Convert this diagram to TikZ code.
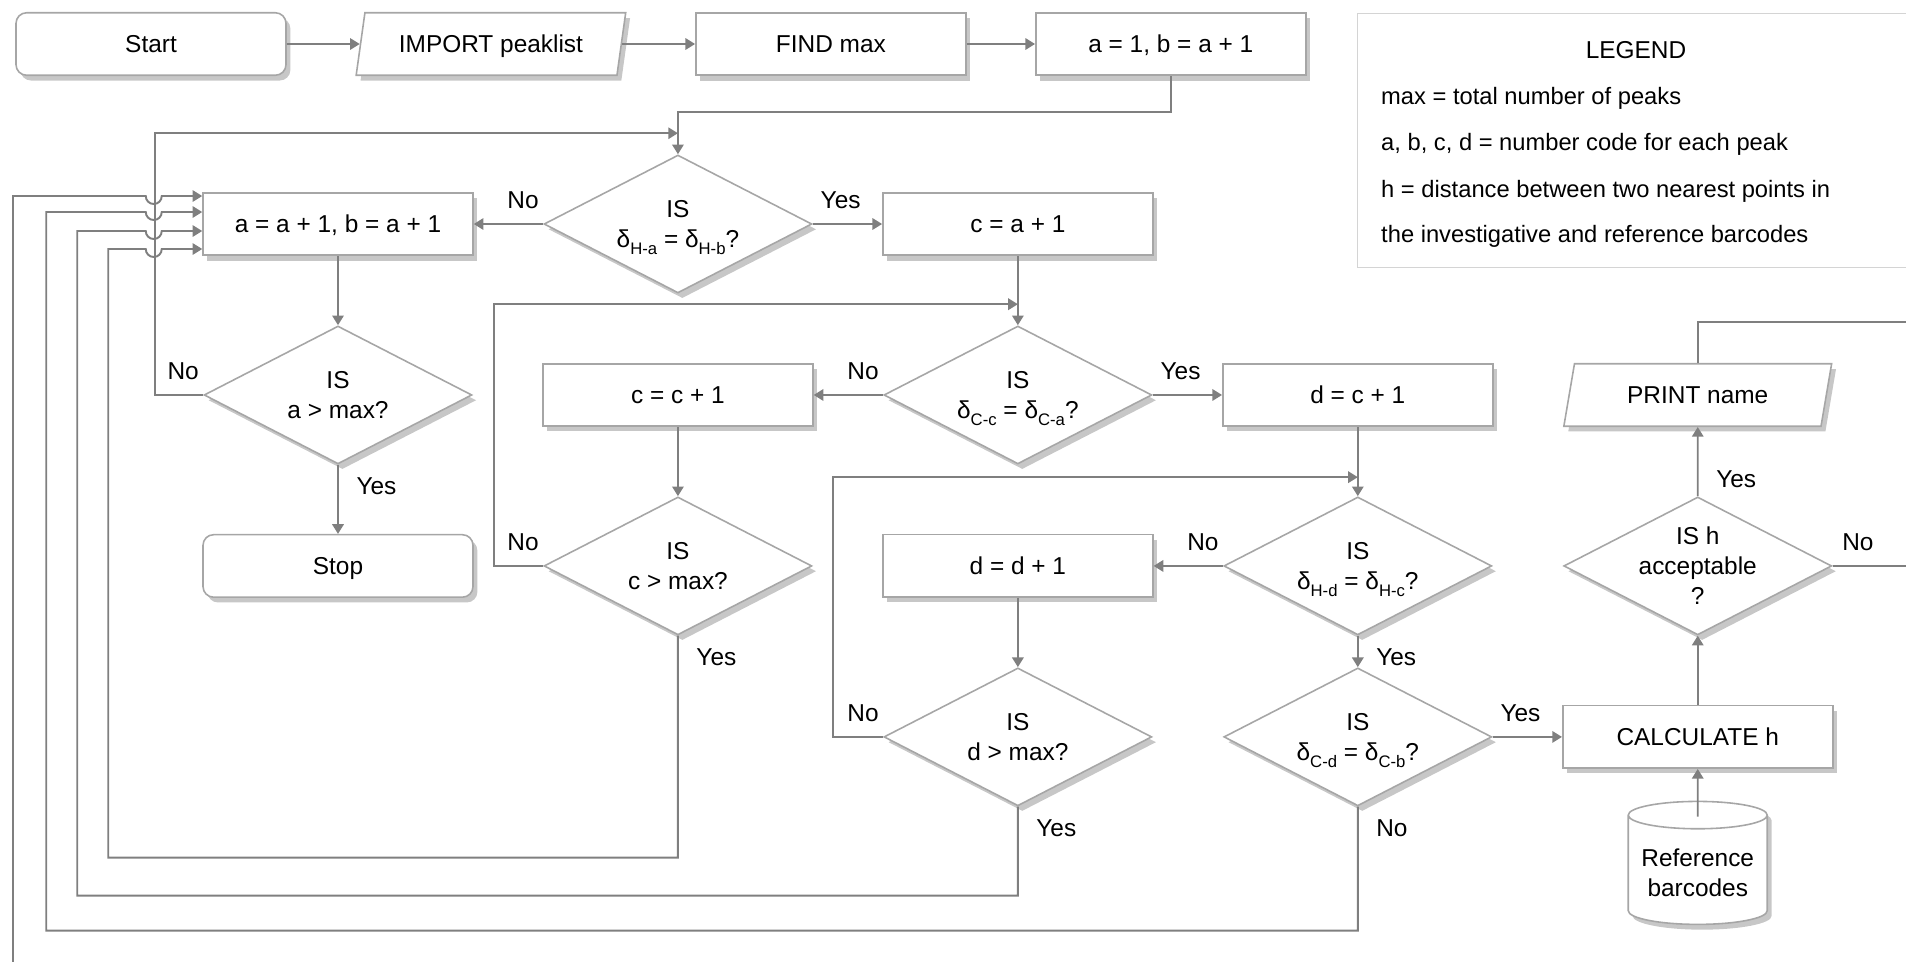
\documentclass[tikz,border=0pt]{standalone}
\usepackage{fontspec}
\setmainfont{Liberation Sans}
\usepackage{xcolor}
\usetikzlibrary{positioning}
\usetikzlibrary{arrows.meta}
\usetikzlibrary{shapes.geometric}
\usetikzlibrary{shadows}
\usetikzlibrary{calc}
\definecolor{linegray}{HTML}{7F7F7F}
\definecolor{boxgray}{HTML}{A6A6A6}
\definecolor{leggray}{HTML}{D4D4D4}
\newcommand{\lowsub}[1]{\raisebox{-0.55ex}[0pt][0pt]{\fontsize{9.5}{10}\selectfont #1}}
\tikzset{flowchart/.style={x=0.02cm, y=-0.02cm, node distance=3.42cm and 6.8cm, on grid,
	font=\fontsize{13.9}{17}\selectfont, every node/.style={align=center}},
	boxshadow/.style={drop shadow={shadow xshift=2.5pt, shadow yshift=-3pt, opacity=0.4, fill=black!55}},
	process/.style={draw=boxgray, line width=0.9pt, fill=white, boxshadow, minimum width=5.4cm, minimum height=1.25cm,
		text depth=0pt},
	terminal/.style={process, rounded corners=6pt},
	io/.style={process, trapezium, trapezium left angle=77, trapezium right angle=103, trapezium stretches=true},
	decision/.style={diamond, aspect=2, draw=boxgray, line width=0.9pt, fill=white, boxshadow,
		minimum width=5.36cm, minimum height=2.76cm, inner sep=0pt},
	database/.style={cylinder, shape border rotate=90, aspect=0.22, draw=boxgray, line width=0.9pt, fill=white, boxshadow,
		minimum width=2.78cm, minimum height=2.46cm},
	arr/.style={draw=linegray, line width=1.1pt, -{Triangle[length=5.5pt,width=6.5pt]}},
	link/.style={draw=linegray, line width=1.1pt},
	lbl/.style={inner sep=1pt}}

\begin{document}
\begin{tikzpicture}[flowchart]
	\useasboundingbox (0,0) rectangle (1906,961);
	\clip (0,0) rectangle (1906,961);
	\node[terminal] (start) at (151,44) {Start};
	\node[io, right=of start] (import) {IMPORT peaklist};
	\node[process, right=of import] (findmax) {FIND max};
	\node[process, right=of findmax] (abinit) {a = 1, b = a + 1};
	\node[process] (incA) at (338,224) {a = a + 1, b = a + 1};
	\node[decision, right=of incA] (d1) {IS\\δ\lowsub{H-a} = δ\lowsub{H-b}?};
	\node[process, right=of d1] (cinit) {c = a + 1};
	\node[decision, below=of incA] (d2) {IS\\a > max?};
	\node[terminal, below=of d2] (stop) {Stop};
	\node[decision, below=of cinit] (d3) {IS\\δ\lowsub{C-c} = δ\lowsub{C-a}?};
	\node[process, left=of d3] (incC) {c = c + 1};
	\node[process, right=of d3] (dinit) {d = c + 1};
	\node[decision, below=of incC] (d4) {IS\\c > max?};
	\node[decision, below=of dinit] (d5) {IS\\δ\lowsub{H-d} = δ\lowsub{H-c}?};
	\node[process, left=of d5] (incD) {d = d + 1};
	\node[decision, below=of incD] (d7) {IS\\d > max?};
	\node[decision, below=of d5] (d6) {IS\\δ\lowsub{C-d} = δ\lowsub{C-b}?};
	\node[process, right=of d6] (calc) {CALCULATE h};
	\node[database, below=2.72cm of calc] (refdb) {Reference\\barcodes};
	\node[decision, above=of calc, inner sep=-6pt] (d8) {IS h\\acceptable\\?};
	\node[io, above=of d8] (printname) {PRINT name};

	\node[draw=leggray, line width=0.8pt, minimum width=11.16cm, minimum height=5.08cm, anchor=north west] (legend) at (1357,13) {};
	\node (legtitle) at (1636,50) {LEGEND};
	\foreach \ly/\ltxt in {98/max = total number of peaks, 144/{a, b, c, d = number code for each peak},
		191/h = distance between two nearest points in, 236/the investigative and reference barcodes}
		\node[anchor=west, font=\fontsize{13.5}{16}\selectfont] (leg\ly) at (1375,\ly) {\ltxt};

	\coordinate (joinA) at ([yshift=0.42cm]d1.north);
	\coordinate (joinC) at ([yshift=0.42cm]d3.north);
	\coordinate (joinD) at ([yshift=0.38cm]d5.north);
	\coordinate (rim) at (1915,0);
	\coordinate (rimP) at ($(rim |- printname.north)+(0,0.82cm)$);
	\coordinate (outerEnd) at (13,975);

	\draw[arr] (start) -- (import);
	\draw[arr] (import) -- (findmax);
	\draw[arr] (findmax) -- (abinit);
	\draw[arr] (abinit.south) |- ([yshift=0.84cm]d1.north) -- (d1.north);
	\draw[arr] (d1.west) node[lbl, above left=7pt and 1pt] {No} -- (incA.east);
	\draw[arr] (d1.east) node[lbl, above right=7pt and 3pt] {Yes} -- (cinit.west);
	\draw[arr] (incA) -- (d2);
	\draw[arr] (d2.south) node[lbl, below right=6pt and 9pt] {Yes} -- (stop);
	\draw[arr] (d2.west) node[lbl, above left=7pt and 1pt] {No} -- ++(-0.97cm,0) |- (joinA);

	\draw[arr] (cinit) -- (d3);
	\draw[arr] (d3.west) node[lbl, above left=7pt and 1pt] {No} -- (incC.east);
	\draw[arr] (d3.east) node[lbl, above right=7pt and 3pt] {Yes} -- (dinit.west);
	\draw[arr] (incC) -- (d4);
	\draw[arr] (d4.west) node[lbl, above left=7pt and 1pt] {No} -- ++(-0.98cm,0) |- (joinC);

	\draw[arr] (dinit) -- (d5);
	\draw[arr] (d5.west) node[lbl, above left=7pt and 1pt] {No} -- (incD.east);
	\draw[arr] (d5.south) node[lbl, below right=6pt and 9pt] {Yes} -- (d6.north);
	\draw[arr] (incD) -- (d7);
	\draw[arr] (d7.west) node[lbl, above left=7pt and 1pt] {No} -- ++(-1cm,0) |- (joinD);
	\draw[arr] (d6.east) node[lbl, above right=7pt and 3pt] {Yes} -- (calc.west);

	\draw[arr] ([yshift=-0.32cm]refdb.north) -- (calc);
	\draw[arr] (calc) -- (d8);
	\draw[arr] (d8.north) node[lbl, above right=3pt and 9pt] {Yes} -- (printname);
	\draw[link] (d8.east) node[lbl, above right=7pt and 4pt] {No} -- (d8.east -| rim);
	\draw[link] (printname.north) |- (rimP);

	\foreach \src/\txt/\drop/\bus/\ent in {d4/Yes/-4.44cm/-1.88cm/-0.5cm, d7/Yes/-1.78cm/-2.5cm/-0.14cm, d6/No/-2.48cm/-3.12cm/0.24cm}
		\draw[arr] (\src.south) node[lbl, below right=6pt and 9pt] {\txt} -- ++(0,\drop)
			-| ([xshift=\bus, yshift=\ent]incA.west) -- ([xshift=-1.13cm, yshift=\ent]incA.west)
			arc[start angle=180, end angle=360, radius=0.16cm] -- ([yshift=\ent]incA.west);
	\draw[arr] (outerEnd) |- ([xshift=-1.13cm, yshift=0.56cm]incA.west)
		arc[start angle=180, end angle=360, radius=0.16cm] -- ([yshift=0.56cm]incA.west);
\end{tikzpicture}
\end{document}
